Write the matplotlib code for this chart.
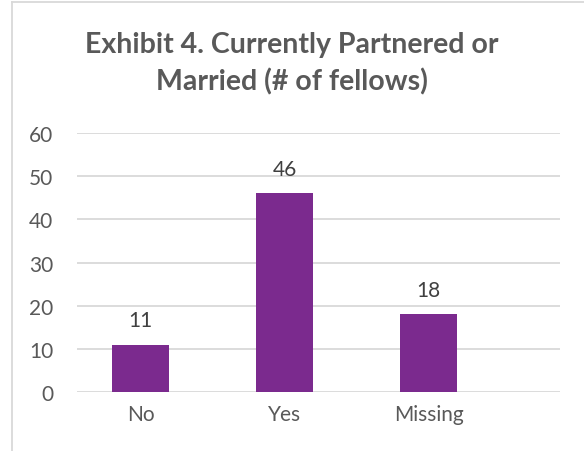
import matplotlib
matplotlib.use("Agg")
import matplotlib.pyplot as plt
from matplotlib.lines import Line2D

## data
categories = ["No", "Yes", "Missing"]
fellows = [11, 46, 18]
yticks = [0, 10, 20, 30, 40, 50, 60]

title = "Exhibit 4. Currently Partnered or\nMarried (# of fellows)"

plt.rcParams["font.family"] = ["Lato", "DejaVu Sans"]

W, H = 584, 452
fig = plt.figure(figsize=(W / 100, H / 100), dpi=100)

# plot area in pixels (left, top, right, bottom)
px_l, px_t, px_r, px_b = 77, 134, 560, 393
ax = fig.add_axes([px_l / W, 1 - px_b / H, (px_r - px_l) / W, (px_b - px_t) / H])

x = list(range(len(categories)))
ax.bar(x, fellows, width=0.396, color="#7B2A8E", zorder=3)

for xi, v in zip(x, fellows):
    ax.annotate(str(v), (xi, v), xytext=(0, 13.4), textcoords="offset points",
                ha="center", va="baseline", fontsize=15, color="#404040")

ax.set_ylim(0, 60)
ax.set_yticks(yticks)
ax.set_xlim(-0.441, 2.913)
ax.set_xticks(x)
ax.set_xticklabels(categories)
ax.grid(axis="y", color="#D9D9D9", lw=1.3, zorder=0)
for s in ax.spines.values():
    s.set_visible(False)
ax.tick_params(axis="both", length=0, labelsize=15, labelcolor="#595959")
ax.tick_params(axis="y", pad=17)
ax.tick_params(axis="x", pad=9)

fig.text(0.5, 1 - 63.5 / H, title, ha="center", va="center", fontsize=20.5,
         fontweight="bold", color="#595959", linespacing=1.45)

# outer chart border (only top and left visible in the crop)
fig.add_artist(Line2D([12 / W, 12 / W], [0, 1 - 3 / H], color="#D9D9D9", lw=1.3,
                      transform=fig.transFigure))
fig.add_artist(Line2D([12 / W, 1], [1 - 3 / H, 1 - 3 / H], color="#D9D9D9", lw=1.3,
                      transform=fig.transFigure))

fig.savefig("out.png", dpi=100)
